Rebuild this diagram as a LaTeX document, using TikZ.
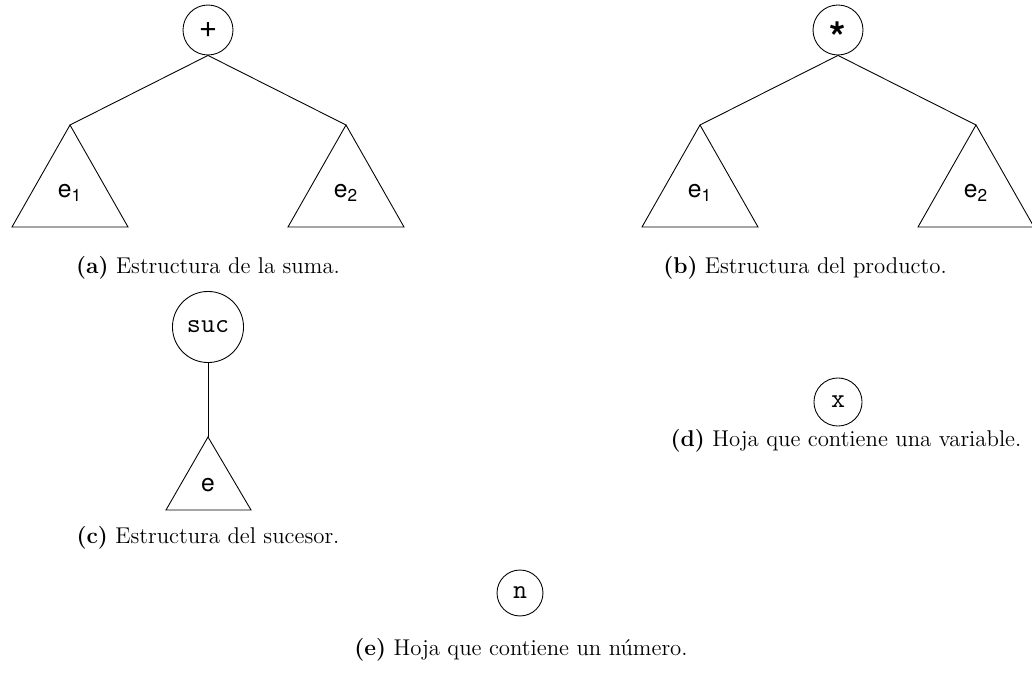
\documentclass[tikz,border=0pt]{standalone}
\usepackage{fontspec}
\newfontfamily\heros{TeX Gyre Heros}
\begin{document}
\begin{tikzpicture}[x=0.57pt,y=-0.57pt,
  opnode/.style={circle,draw,line width=0.5pt,minimum size=#1,inner sep=0pt},
  symlbl/.style={font=\heros\fontsize{18}{20}\selectfont},
  sanslbl/.style={font=\heros\fontsize{14}{16}\selectfont},
  ttlbl/.style={font=\ttfamily\fontsize{15.5}{17}\selectfont},
  capt/.style={font=\fontsize{13}{15}\selectfont},
  tri/.style={draw,line width=0.5pt},
  edge/.style={draw,line width=0.5pt}]
\useasboundingbox (0,0) rectangle (1032,677);
% (a)
\node[opnode=28.5pt,symlbl] (plus) at (208,30) {+};
\coordinate (aL) at (70,125);
\coordinate (aR) at (346,125);
\draw[tri] (aL) -- (12,227) -- (128,227) -- cycle;
\draw[tri] (aR) -- (288,227) -- (404,227) -- cycle;
\draw[edge] (plus.south) -- (aL);
\draw[edge] (plus.south) -- (aR);
\node[sanslbl] (ae1) at (70,193) {e\textsubscript{1}};
\node[sanslbl] (ae2) at (346,193) {e\textsubscript{2}};
\node[capt] (capa) at (208,268) {\textbf{(a)} Estructura de la suma.};
% (b)
\node[opnode=28.5pt,symlbl] (times) at (838,30) {\vphantom{+}\smash{\raisebox{-8.5pt}{\fontsize{24}{25}\selectfont\bfseries *}}};
\coordinate (bL) at (700,125);
\coordinate (bR) at (976,125);
\draw[tri] (bL) -- (642,227) -- (758,227) -- cycle;
\draw[tri] (bR) -- (918,227) -- (1034,227) -- cycle;
\draw[edge] (times.south) -- (bL);
\draw[edge] (times.south) -- (bR);
\node[sanslbl] (be1) at (700,193) {e\textsubscript{1}};
\node[sanslbl] (be2) at (976,193) {e\textsubscript{2}};
\node[capt] (capb) at (805,268) {\textbf{(b)} Estructura del producto.};
% (c)
\node[opnode=40.5pt,ttlbl] (suc) at (208,327) {suc};
\coordinate (cT) at (208,437);
\draw[tri] (cT) -- (166,510) -- (251,510) -- cycle;
\draw[edge] (suc.south) -- (cT);
\node[sanslbl] (ce) at (208,485) {e};
\node[capt] (capc) at (208,538) {\textbf{(c)} Estructura del sucesor.};
% (d)
\node[opnode=27.4pt,ttlbl] (var) at (838,402) {x};
\node[capt] (capd) at (846,441) {\textbf{(d)} Hoja que contiene una variable.};
% (e)
\node[opnode=26.2pt,ttlbl] (num) at (520,593) {n};
\node[capt] (cape) at (521,650) {\textbf{(e)} Hoja que contiene un número.};
\end{tikzpicture}
\end{document}
